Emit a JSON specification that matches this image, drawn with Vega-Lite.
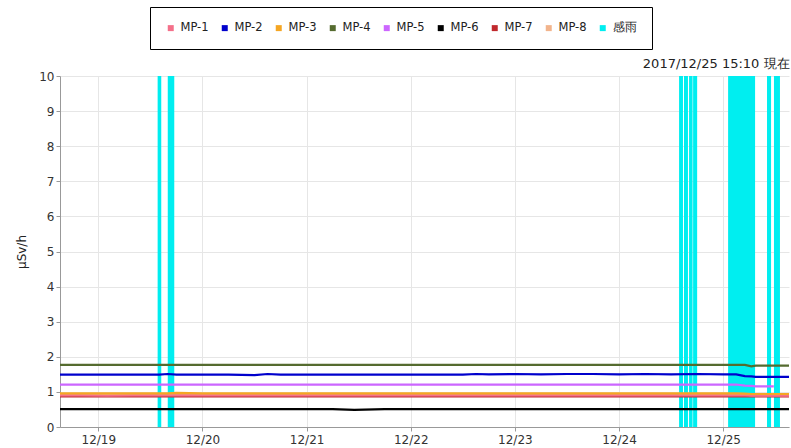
{
  "$schema": "https://vega.github.io/schema/vega-lite/v6.json",
  "width": 729,
  "height": 351,
  "autosize": {"type": "none"},
  "padding": {"left": 60, "top": 76, "right": 2, "bottom": 21},
  "background": "white",
  "config": {
    "font": "DejaVu Sans",
    "view": {"stroke": null},
    "axis": {
      "labelFont": "DejaVu Sans",
      "labelFontSize": 12,
      "labelColor": "#333",
      "domainColor": "#999",
      "tickColor": "#999",
      "gridColor": "#e6e6e6",
      "titleFont": "DejaVu Sans",
      "titleFontWeight": "normal",
      "titleColor": "#222"
    }
  },
  "datasets": {
    "rain": [
      {"start": "2017-12-19T13:40:00", "end": "2017-12-19T14:30:00", "series": "感雨"},
      {"start": "2017-12-19T16:00:00", "end": "2017-12-19T17:30:00", "series": "感雨"},
      {"start": "2017-12-24T13:50:00", "end": "2017-12-24T14:44:00", "series": "感雨"},
      {"start": "2017-12-24T14:58:00", "end": "2017-12-24T15:53:00", "series": "感雨"},
      {"start": "2017-12-24T16:08:00", "end": "2017-12-24T16:57:00", "series": "感雨"},
      {"start": "2017-12-24T17:04:00", "end": "2017-12-24T18:00:00", "series": "感雨"},
      {"start": "2017-12-25T01:08:00", "end": "2017-12-25T07:21:00", "series": "感雨"},
      {"start": "2017-12-25T10:06:00", "end": "2017-12-25T11:02:00", "series": "感雨"},
      {"start": "2017-12-25T11:42:00", "end": "2017-12-25T13:05:00", "series": "感雨"}
    ],
    "dose": [
      {"t": "2017-12-18T15:10:00", "MP-1": 0.90, "MP-2": 1.49, "MP-3": 0.96, "MP-4": 1.77, "MP-5": 1.21, "MP-6": 0.51, "MP-7": 0.875, "MP-8": 0.92},
      {"t": "2017-12-18T20:00:00", "MP-1": 0.90, "MP-2": 1.49, "MP-3": 0.96, "MP-4": 1.77, "MP-5": 1.21, "MP-6": 0.51, "MP-7": 0.875, "MP-8": 0.92},
      {"t": "2017-12-19T02:00:00", "MP-1": 0.89, "MP-2": 1.49, "MP-3": 0.96, "MP-4": 1.77, "MP-5": 1.21, "MP-6": 0.51, "MP-7": 0.875, "MP-8": 0.92},
      {"t": "2017-12-19T08:00:00", "MP-1": 0.90, "MP-2": 1.49, "MP-3": 0.96, "MP-4": 1.77, "MP-5": 1.21, "MP-6": 0.51, "MP-7": 0.875, "MP-8": 0.92},
      {"t": "2017-12-19T14:00:00", "MP-1": 0.90, "MP-2": 1.49, "MP-3": 0.96, "MP-4": 1.77, "MP-5": 1.21, "MP-6": 0.51, "MP-7": 0.875, "MP-8": 0.92},
      {"t": "2017-12-19T16:00:00", "MP-1": 0.90, "MP-2": 1.51, "MP-3": 0.96, "MP-4": 1.77, "MP-5": 1.21, "MP-6": 0.51, "MP-7": 0.875, "MP-8": 0.92},
      {"t": "2017-12-19T18:00:00", "MP-1": 0.90, "MP-2": 1.49, "MP-3": 0.97, "MP-4": 1.77, "MP-5": 1.21, "MP-6": 0.51, "MP-7": 0.875, "MP-8": 0.92},
      {"t": "2017-12-20T00:00:00", "MP-1": 0.90, "MP-2": 1.49, "MP-3": 0.96, "MP-4": 1.77, "MP-5": 1.21, "MP-6": 0.51, "MP-7": 0.875, "MP-8": 0.92},
      {"t": "2017-12-20T06:00:00", "MP-1": 0.90, "MP-2": 1.49, "MP-3": 0.96, "MP-4": 1.77, "MP-5": 1.21, "MP-6": 0.51, "MP-7": 0.875, "MP-8": 0.92},
      {"t": "2017-12-20T12:00:00", "MP-1": 0.90, "MP-2": 1.48, "MP-3": 0.96, "MP-4": 1.77, "MP-5": 1.21, "MP-6": 0.51, "MP-7": 0.875, "MP-8": 0.92},
      {"t": "2017-12-20T15:00:00", "MP-1": 0.90, "MP-2": 1.51, "MP-3": 0.96, "MP-4": 1.77, "MP-5": 1.21, "MP-6": 0.51, "MP-7": 0.875, "MP-8": 0.92},
      {"t": "2017-12-20T18:00:00", "MP-1": 0.90, "MP-2": 1.49, "MP-3": 0.96, "MP-4": 1.77, "MP-5": 1.21, "MP-6": 0.51, "MP-7": 0.875, "MP-8": 0.92},
      {"t": "2017-12-21T00:00:00", "MP-1": 0.90, "MP-2": 1.49, "MP-3": 0.96, "MP-4": 1.77, "MP-5": 1.21, "MP-6": 0.51, "MP-7": 0.875, "MP-8": 0.92},
      {"t": "2017-12-21T06:00:00", "MP-1": 0.90, "MP-2": 1.49, "MP-3": 0.96, "MP-4": 1.77, "MP-5": 1.21, "MP-6": 0.51, "MP-7": 0.875, "MP-8": 0.92},
      {"t": "2017-12-21T11:00:00", "MP-1": 0.90, "MP-2": 1.49, "MP-3": 0.96, "MP-4": 1.77, "MP-5": 1.21, "MP-6": 0.49, "MP-7": 0.875, "MP-8": 0.92},
      {"t": "2017-12-21T18:00:00", "MP-1": 0.90, "MP-2": 1.49, "MP-3": 0.96, "MP-4": 1.77, "MP-5": 1.21, "MP-6": 0.51, "MP-7": 0.875, "MP-8": 0.92},
      {"t": "2017-12-22T00:00:00", "MP-1": 0.90, "MP-2": 1.49, "MP-3": 0.96, "MP-4": 1.77, "MP-5": 1.21, "MP-6": 0.51, "MP-7": 0.875, "MP-8": 0.92},
      {"t": "2017-12-22T06:00:00", "MP-1": 0.90, "MP-2": 1.49, "MP-3": 0.96, "MP-4": 1.77, "MP-5": 1.21, "MP-6": 0.51, "MP-7": 0.875, "MP-8": 0.92},
      {"t": "2017-12-22T12:00:00", "MP-1": 0.90, "MP-2": 1.49, "MP-3": 0.96, "MP-4": 1.77, "MP-5": 1.21, "MP-6": 0.51, "MP-7": 0.875, "MP-8": 0.92},
      {"t": "2017-12-22T15:00:00", "MP-1": 0.90, "MP-2": 1.51, "MP-3": 0.96, "MP-4": 1.77, "MP-5": 1.21, "MP-6": 0.51, "MP-7": 0.875, "MP-8": 0.92},
      {"t": "2017-12-22T18:00:00", "MP-1": 0.90, "MP-2": 1.50, "MP-3": 0.96, "MP-4": 1.77, "MP-5": 1.21, "MP-6": 0.51, "MP-7": 0.875, "MP-8": 0.92},
      {"t": "2017-12-23T00:00:00", "MP-1": 0.90, "MP-2": 1.51, "MP-3": 0.96, "MP-4": 1.77, "MP-5": 1.21, "MP-6": 0.51, "MP-7": 0.875, "MP-8": 0.92},
      {"t": "2017-12-23T06:00:00", "MP-1": 0.90, "MP-2": 1.50, "MP-3": 0.96, "MP-4": 1.77, "MP-5": 1.21, "MP-6": 0.51, "MP-7": 0.875, "MP-8": 0.92},
      {"t": "2017-12-23T12:00:00", "MP-1": 0.90, "MP-2": 1.51, "MP-3": 0.96, "MP-4": 1.77, "MP-5": 1.21, "MP-6": 0.51, "MP-7": 0.875, "MP-8": 0.92},
      {"t": "2017-12-23T18:00:00", "MP-1": 0.90, "MP-2": 1.51, "MP-3": 0.96, "MP-4": 1.77, "MP-5": 1.21, "MP-6": 0.51, "MP-7": 0.875, "MP-8": 0.92},
      {"t": "2017-12-24T00:00:00", "MP-1": 0.90, "MP-2": 1.50, "MP-3": 0.96, "MP-4": 1.77, "MP-5": 1.21, "MP-6": 0.51, "MP-7": 0.875, "MP-8": 0.92},
      {"t": "2017-12-24T06:00:00", "MP-1": 0.90, "MP-2": 1.51, "MP-3": 0.96, "MP-4": 1.77, "MP-5": 1.21, "MP-6": 0.51, "MP-7": 0.875, "MP-8": 0.92},
      {"t": "2017-12-24T12:00:00", "MP-1": 0.90, "MP-2": 1.50, "MP-3": 0.96, "MP-4": 1.77, "MP-5": 1.21, "MP-6": 0.51, "MP-7": 0.875, "MP-8": 0.92},
      {"t": "2017-12-24T18:00:00", "MP-1": 0.90, "MP-2": 1.51, "MP-3": 0.96, "MP-4": 1.77, "MP-5": 1.21, "MP-6": 0.51, "MP-7": 0.875, "MP-8": 0.92},
      {"t": "2017-12-25T00:00:00", "MP-1": 0.90, "MP-2": 1.50, "MP-3": 0.96, "MP-4": 1.77, "MP-5": 1.21, "MP-6": 0.51, "MP-7": 0.875, "MP-8": 0.92},
      {"t": "2017-12-25T03:00:00", "MP-1": 0.90, "MP-2": 1.50, "MP-3": 0.96, "MP-4": 1.77, "MP-5": 1.21, "MP-6": 0.51, "MP-7": 0.875, "MP-8": 0.92},
      {"t": "2017-12-25T05:00:00", "MP-1": 0.90, "MP-2": 1.45, "MP-3": 0.95, "MP-4": 1.77, "MP-5": 1.18, "MP-6": 0.51, "MP-7": 0.875, "MP-8": 0.92},
      {"t": "2017-12-25T06:30:00", "MP-1": 0.89, "MP-2": 1.44, "MP-3": 0.94, "MP-4": 1.73, "MP-5": 1.17, "MP-6": 0.51, "MP-7": 0.875, "MP-8": 0.91},
      {"t": "2017-12-25T07:30:00", "MP-1": 0.89, "MP-2": 1.43, "MP-3": 0.94, "MP-4": 1.75, "MP-5": 1.16, "MP-6": 0.51, "MP-7": 0.875, "MP-8": 0.91},
      {"t": "2017-12-25T11:40:00", "MP-1": 0.89, "MP-2": 1.43, "MP-3": 0.94, "MP-4": 1.75, "MP-5": 1.16, "MP-6": 0.51, "MP-7": 0.875, "MP-8": 0.91},
      {"t": "2017-12-25T15:10:00", "MP-1": 0.89, "MP-2": 1.43, "MP-3": 0.94, "MP-4": 1.75, "MP-5": null, "MP-6": 0.51, "MP-7": 0.875, "MP-8": 0.91}
    ]
  },
  "layer": [
    {
      "data": {"name": "rain"},
      "mark": {"type": "rect"},
      "encoding": {
        "x": {
          "field": "start",
          "type": "temporal",
          "scale": {
            "domain": [
              {"year": 2017, "month": 12, "date": 18, "hours": 15, "minutes": 10},
              {"year": 2017, "month": 12, "date": 25, "hours": 15, "minutes": 10}
            ]
          },
          "axis": {
            "orient": "top",
            "title": "2017/12/25 15:10 現在",
            "titleAnchor": "end",
            "titleFontSize": 13,
            "titlePadding": 6,
            "labels": false,
            "ticks": false,
            "domain": false,
            "grid": false
          }
        },
        "x2": {"field": "end"},
        "color": {
          "field": "series",
          "type": "nominal",
          "scale": {
            "domain": ["MP-1", "MP-2", "MP-3", "MP-4", "MP-5", "MP-6", "MP-7", "MP-8", "感雨"],
            "range": ["#f4708a", "#0000cc", "#f5a623", "#556b2f", "#cc66ff", "#000000", "#c0282d", "#f2b48c", "#00eef0"]
          },
          "legend": {
            "orient": "none",
            "legendX": 90,
            "legendY": -69,
            "direction": "horizontal",
            "columns": 9,
            "title": null,
            "strokeColor": "#000",
            "fillColor": "#fff",
            "padding": 15,
            "symbolType": "square",
            "symbolSize": 36,
            "symbolStrokeWidth": 0,
            "labelFont": "DejaVu Sans",
            "labelFontSize": 11.5,
            "labelColor": "#222",
            "labelOffset": 4,
            "columnPadding": 10,
            "encode": {
              "symbols": {"update": {"fill": {"scale": "color", "field": "value"}, "strokeWidth": {"value": 0}}}
            }
          }
        }
      }
    },
    {
      "data": {"name": "dose"},
      "transform": [
        {"fold": ["MP-7", "MP-8", "MP-1", "MP-3", "MP-6", "MP-5", "MP-2", "MP-4"], "as": ["series", "value"]}
      ],
      "mark": {"type": "line", "strokeWidth": 2.2},
      "encoding": {
        "x": {
          "field": "t",
          "type": "temporal",
          "axis": {
            "orient": "bottom",
            "title": null,
            "format": "%m/%d",
            "tickCount": {"interval": "day", "step": 1},
            "grid": true,
            "tickSize": 4,
            "labelPadding": 3
          }
        },
        "y": {
          "field": "value",
          "type": "quantitative",
          "scale": {"domain": [0, 10], "nice": false},
          "axis": {
            "title": "μSv/h",
            "titleFontSize": 12,
            "values": [0, 1, 2, 3, 4, 5, 6, 7, 8, 9, 10],
            "labelOverlap": false,
            "grid": true,
            "tickSize": 4,
            "titlePadding": 10
          }
        },
        "color": {"field": "series", "type": "nominal"}
      }
    }
  ]
}
